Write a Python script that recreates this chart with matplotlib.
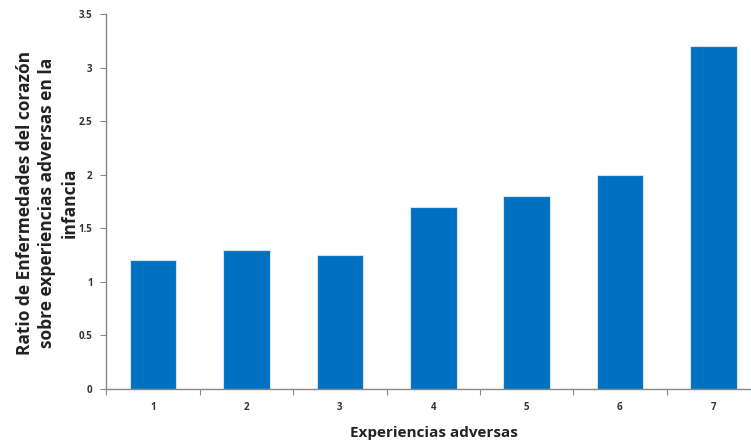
import matplotlib.pyplot as plt
import numpy as np

categorias = ["1", "2", "3", "4", "5", "6", "7"]
ratios = [1.2, 1.3, 1.25, 1.7, 1.8, 2.0, 3.2]
yticks = [0, 0.5, 1, 1.5, 2, 2.5, 3, 3.5]
ytick_labels = ["0", "0.5", "1", "1.5", "2", "2.5", "3", "3.5"]

plt.rcParams["font.family"] = ["Open Sans", "DejaVu Sans"]

fig = plt.figure(figsize=(7.51, 4.45), dpi=100)
# axis runs past the right edge of the picture, like the original crop
ax = fig.add_axes([0.1418, 0.1258, 0.870, 0.8427])

x = np.arange(len(categorias))
ax.bar(x, ratios, width=0.5, color="#0070C0", edgecolor="#d8e4f0", linewidth=0.8)

ax.set_xlim(-0.5, len(categorias) - 0.5)
ax.set_ylim(0, 3.5)

ax.set_yticks(yticks)
ax.set_yticklabels(ytick_labels, fontsize=7, fontweight="bold", color="#333333")
ax.set_xticks(x)
ax.set_xticklabels(categorias, fontsize=7, fontweight="bold", color="#333333")
ax.tick_params(axis="x", which="major", length=0, pad=9)
ax.set_xticks(np.arange(len(categorias) + 1) - 0.5, minor=True)
ax.tick_params(axis="x", which="minor", length=4, color="#888888", width=0.8)
ax.tick_params(axis="y", length=4, color="#888888", width=0.8, pad=6)

for s in ["top", "right"]:
    ax.spines[s].set_visible(False)
for s in ["left", "bottom"]:
    ax.spines[s].set_color("#888888")
    ax.spines[s].set_linewidth(1.0)

fig.text(0.063, 0.545, "Ratio de Enfermedades del corazón\nsobre experiencias adversas en la\ninfancia",
         fontsize=12.5, fontweight="bold", color="#222222", linespacing=1.3,
         rotation=90, ha="center", va="center", multialignment="center")
fig.text(0.578, 0.027, "Experiencias adversas", fontsize=11, fontweight="bold",
         color="#222222", ha="center", va="center")

plt.savefig("out.png", dpi=100)
plt.close()
